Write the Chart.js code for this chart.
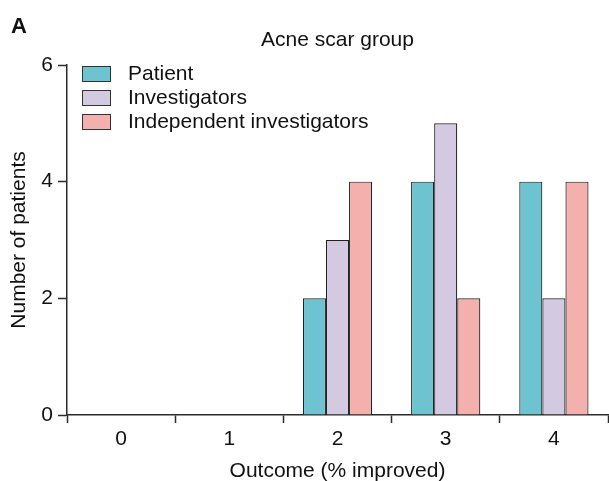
<!DOCTYPE html>
<html>
<head>
<meta charset="utf-8">
<script src="https://cdn.jsdelivr.net/npm/chart.js@4.4.1/dist/chart.umd.min.js"></script>
<style>
  html, body { margin: 0; padding: 0; background: #ffffff; }
  #wrap { width: 609px; height: 481px; position: relative; }
</style>
</head>
<body>
<div id="wrap"><canvas id="chart" width="609" height="481"></canvas></div>
<script>
// Outcome categories (% improved score) and patient counts per rater
const categories = ['0', '1', '2', '3', '4'];
const patientCounts = [0, 0, 2, 4, 4];
const investigatorCounts = [0, 0, 3, 5, 2];
const independentCounts = [0, 0, 4, 2, 4];
const yTicks = [0, 2, 4, 6];

const seriesNames = ['Patient', 'Investigators', 'Independent investigators'];
const seriesColors = ['#6dc3cf', '#d3cae1', '#f4b0ac'];
const FONT = '"Liberation Sans", Arial, Helvetica, sans-serif';
const FS = 21;
const AXIS = '#2b2b2b';

// Panel letter, heading and an in-plot legend
const decorations = {
  id: 'decorations',
  afterDraw(chart) {
    const ctx = chart.ctx;
    const area = chart.chartArea;
    ctx.save();
    ctx.fillStyle = '#111';
    ctx.font = 'bold 22px "Liberation Sans Narrow", ' + FONT;
    ctx.textAlign = 'left';
    ctx.textBaseline = 'middle';
    ctx.fillText('A', 11, 27);

    ctx.font = FS + 'px ' + FONT;
    ctx.textAlign = 'center';
    ctx.fillText('Acne scar group', (area.left + area.right) / 2, 40);

    ctx.textAlign = 'left';
    chart.data.datasets.forEach((ds, i) => {
      const y = 66 + i * 24;
      ctx.fillStyle = ds.backgroundColor;
      ctx.fillRect(82.5, y + 0.5, 28, 15);
      ctx.strokeStyle = '#333';
      ctx.lineWidth = 1;
      ctx.strokeRect(82.5, y + 0.5, 28, 15);
      ctx.fillStyle = '#111';
      ctx.fillText(ds.label, 128, y + 8);
    });
    ctx.restore();
  }
};

const datasets = [patientCounts, investigatorCounts, independentCounts].map((vals, i) => ({
  label: seriesNames[i],
  data: vals,
  backgroundColor: seriesColors[i],
  borderColor: '#222',
  borderWidth: 1.2,
  borderSkipped: 'bottom',
  categoryPercentage: 0.64,
  barPercentage: 1.0
}));

new Chart(document.getElementById('chart'), {
  type: 'bar',
  data: { labels: categories, datasets },
  options: {
    responsive: false,
    animation: false,
    layout: { padding: { top: 65, right: 1, bottom: 0, left: 0 } },
    plugins: {
      legend: { display: false },
      tooltip: { enabled: false },
      title: { display: false }
    },
    scales: {
      x: {
        offset: true,
        grid: {
          display: true,
          offset: true,
          drawOnChartArea: false,
          drawTicks: true,
          tickLength: 8,
          tickWidth: 1.5,
          tickColor: AXIS
        },
        border: { display: true, color: AXIS, width: 1.5 },
        ticks: {
          color: '#111',
          font: { family: FONT, size: FS },
          padding: 4,
          maxRotation: 0
        },
        title: {
          display: true,
          text: 'Outcome (% improved)',
          color: '#111',
          font: { family: FONT, size: FS },
          padding: { top: 0, bottom: -3 }
        },
        afterFit(scale) { scale.height = 66; }
      },
      y: {
        min: 0,
        max: 6,
        afterBuildTicks(scale) { scale.ticks = yTicks.map(v => ({ value: v })); },
        grid: {
          display: true,
          drawOnChartArea: false,
          drawTicks: true,
          tickLength: 9,
          tickWidth: 1.5,
          tickColor: AXIS
        },
        border: { display: true, color: AXIS, width: 1.5 },
        ticks: {
          color: '#111',
          font: { family: FONT, size: FS },
          padding: 5
        },
        title: {
          display: true,
          text: 'Number of patients',
          color: '#111',
          font: { family: FONT, size: FS },
          padding: { top: 7, bottom: 0 }
        },
        afterFit(scale) { scale.width = 67; }
      }
    }
  },
  plugins: [decorations]
});
</script>
</body>
</html>
